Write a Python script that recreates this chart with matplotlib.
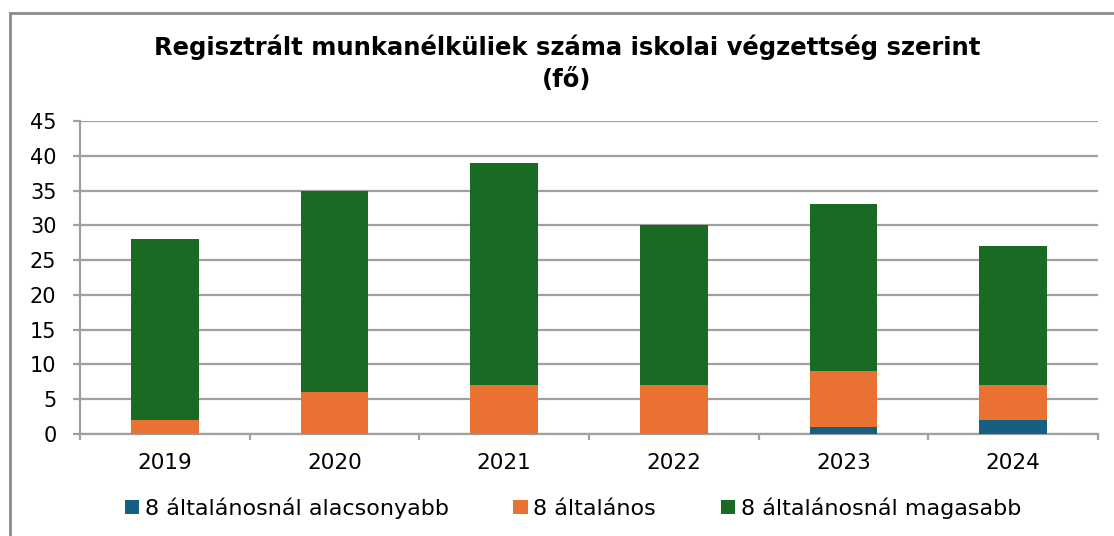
import numpy as np
import matplotlib.pyplot as plt
from matplotlib.lines import Line2D

years = ["2019", "2020", "2021", "2022", "2023", "2024"]
alacsonyabb = [0, 0, 0, 0, 1, 2]
altalanos = [2, 6, 7, 7, 8, 5]
magasabb = [26, 29, 32, 23, 24, 20]

labels = ["8 általánosnál alacsonyabb", "8 általános", "8 általánosnál magasabb"]
colors = ["#156082", "#E97132", "#196B24"]
grid_c = "#A0A0A0"

plt.rcParams['font.family'] = ['DejaVu Sans']

fig = plt.figure(figsize=(11.14, 5.36), dpi=100)
ax = fig.add_axes([80 / 1114, 1 - 434 / 536, 1018 / 1114, 313 / 536])

x = np.arange(len(years))
low = np.array(alacsonyabb)
mid = np.array(altalanos)
high = np.array(magasabb)
w = 0.4
ax.bar(x, low, w, color=colors[0], label=labels[0], zorder=3)
ax.bar(x, mid, w, bottom=low, color=colors[1], label=labels[1], zorder=3)
ax.bar(x, high, w, bottom=low + mid, color=colors[2], label=labels[2], zorder=3)

ax.set_xlim(-0.5, len(years) - 0.5)
ax.set_ylim(0, 45)
ax.set_yticks(range(0, 46, 5))
ax.yaxis.grid(True, color=grid_c, linewidth=1.6)
ax.set_axisbelow(True)

ax.set_xticks(x)
ax.set_xticklabels(years)
ax.set_xticks(np.arange(-0.5, len(years)), minor=True)
ax.tick_params(axis='x', which='major', length=0, pad=14, labelsize=15.5)
ax.tick_params(axis='x', which='minor', length=4, width=1.6, color=grid_c)
ax.tick_params(axis='y', length=5, width=1.6, color=grid_c, labelsize=15, pad=12)

for s in ['top', 'right']:
    ax.spines[s].set_visible(False)
for s in ['left', 'bottom']:
    ax.spines[s].set_color(grid_c)
    ax.spines[s].set_linewidth(1.6)

fig.text(567 / 1114, 1 - 47 / 536, "Regisztrált munkanélküliek száma iskolai végzettség szerint",
         ha='center', va='center', fontsize=17.5, fontweight='bold')
fig.text(567 / 1114, 1 - 80 / 536, "(fő)", ha='center', va='center', fontsize=17.5, fontweight='bold')

fig.legend(loc='center', bbox_to_anchor=(573 / 1114, 1 - 508 / 536), ncol=3, frameon=False,
           fontsize=16, handlelength=0.65, handleheight=0.6, handletextpad=0.25, columnspacing=2.9)

# outer chart frame (top and left edges visible)
fig.add_artist(Line2D([10 / 1114, 10 / 1114], [0, 1 - 13 / 536], transform=fig.transFigure,
                      color="#8C8C8C", linewidth=2))
fig.add_artist(Line2D([10 / 1114, 1], [1 - 13 / 536, 1 - 13 / 536], transform=fig.transFigure,
                      color="#8C8C8C", linewidth=2))

fig.savefig("out.png", dpi=100)
